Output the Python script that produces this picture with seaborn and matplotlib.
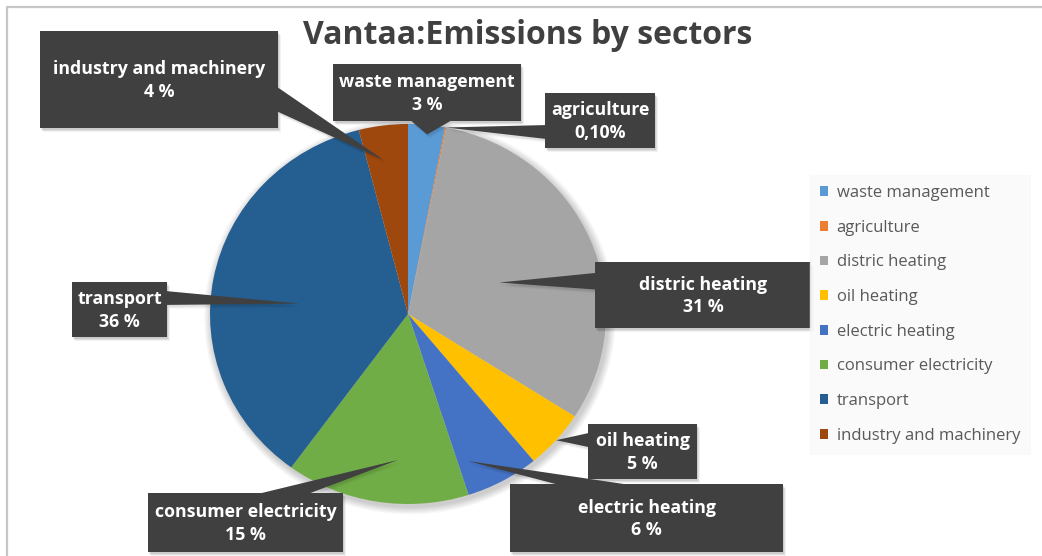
import numpy as np
import matplotlib
matplotlib.use("Agg")
import matplotlib.pyplot as plt
from matplotlib.patches import Rectangle, Polygon, Ellipse
import seaborn as sns

# ---- data -------------------------------------------------------------
sectors = ["waste management", "agriculture", "distric heating", "oil heating",
           "electric heating", "consumer electricity", "transport",
           "industry and machinery"]
shares = [3, 0.1, 31, 5, 6, 15, 36, 4]
share_labels = ["3 %", "0,10%", "31 %", "5 %", "6 %", "15 %", "36 %", "4 %"]
colors = ["#5B9BD5", "#ED7D31", "#A5A5A5", "#FFC000",
          "#4472C4", "#70AD47", "#255E91", "#9E480E"]
title = "Vantaa:Emissions by sectors"

# ---- layout (pixel space, origin top-left) ----------------------------
W, H = 1042, 556
cx, cy, rx, ry = 408, 314, 198, 190          # pie centre and radii
callout_boxes = [
    (333, 64, 521, 121),
    (545, 93, 655, 148),
    (595, 262, 811, 328),
    (588, 424, 697, 479),
    (510, 484, 783, 552),
    (148, 493, 343, 552),
    (72, 282, 167, 337),
    (40, 31, 278, 128),
]
# pointer landing spot: (position across the wedge 0..1, radius fraction)
pointer_anchor = [(0.54, 0.95), (0.5, 1.0), (0.53, 0.49), (0.5, 1.0),
                  (0.84, 0.83), (0.40, 0.77), (0.46, 0.55), (0.40, 0.82)]

sns.set_theme(style="white")
plt.rcParams["font.family"] = ["Open Sans", "DejaVu Sans"]

fig = plt.figure(figsize=(W / 100, H / 100), dpi=100)
fig.patch.set_facecolor("white")

# ---- pie --------------------------------------------------------------
lim = 1.1
pax = fig.add_axes([(cx - rx * lim) / W, (H - (cy + ry * lim)) / H,
                    2 * rx * lim / W, 2 * ry * lim / H])
palette = sns.color_palette(colors)
# soft shadow around the pie
for k in range(10):
    s = 1.0 + 0.004 * (k + 1)
    pax.add_patch(Ellipse((0.01, -0.015), 2 * s, 2 * s, color="black",
                          alpha=0.018, lw=0, zorder=0.5))
wedges, _ = pax.pie(shares, colors=palette, startangle=90, counterclock=False,
                    radius=1.0, wedgeprops=dict(linewidth=0))
pax.set_xlim(-lim, lim)
pax.set_ylim(-lim, lim)
pax.set_aspect("auto")
pax.axis("off")

# ---- overlay in pixel coordinates ---------------------------------------
ov = fig.add_axes([0, 0, 1, 1])
ov.set_xlim(0, W)
ov.set_ylim(H, 0)
ov.axis("off")
ov.patch.set_alpha(0)

# chart frame
ov.plot([7, 7, W], [H, 7, 7], color="#C6C6C6", lw=1.6, solid_capstyle="butt",
        zorder=1)

ov.text(528, 35, title, ha="center", va="center", fontsize=23,
        fontweight="bold", color="#404040")

cum = np.concatenate([[0], np.cumsum(shares)]) / np.sum(shares) * 360.0


def to_pixels(px, py):
    disp = pax.transData.transform((px, py))
    return ov.transData.inverted().transform(disp)


box_color = "#404040"
for i, (sector, lab) in enumerate(zip(sectors, share_labels)):
    f, r = pointer_anchor[i]
    a = np.radians(cum[i] + f * (cum[i + 1] - cum[i]))
    tx, ty = to_pixels(r * np.sin(a), r * np.cos(a))

    bx0, by0, bx1, by1 = callout_boxes[i]
    w, h = bx1 - bx0, by1 - by0
    xc, yc = (bx0 + bx1) / 2, (by0 + by1) / 2
    dx, dy = tx - xc, ty - yc
    if abs(dy) > abs(dx * h / w):
        ey = by0 if dy < 0 else by1
        f1, f2 = (7 / 12, 10 / 12) if dx > 0 else (2 / 12, 5 / 12)
        if abs(dx) < 0.06 * w:
            f1, f2 = (5 / 12, 7.5 / 12)
        base = [(bx0 + f1 * w, ey), (bx0 + f2 * w, ey)]
    else:
        ex = bx0 if dx < 0 else bx1
        f1, f2 = (7 / 12, 10 / 12) if dy > 0 else (2 / 12, 5 / 12)
        base = [(ex, by0 + f1 * h), (ex, by0 + f2 * h)]

    # drop shadow
    for k, al in [(4, 0.05), (3, 0.07), (2, 0.09)]:
        ov.add_patch(Rectangle((bx0 + k * 0.7, by0 + k), w, h, color="black",
                               alpha=al, lw=0, zorder=2))
        ov.add_patch(Polygon([(x + k * 0.7, y + k) for x, y in base + [(tx, ty)]],
                             closed=True, color="black", alpha=al * 0.6, lw=0,
                             zorder=2))
    ov.add_patch(Polygon(base + [(tx, ty)], closed=True, color=box_color, lw=0,
                         zorder=3))
    ov.add_patch(Rectangle((bx0, by0), w, h, color=box_color, lw=0, zorder=4))
    ov.text(xc, yc + 1, f"{sector}\n{lab}", ha="center", va="center",
            color="white", fontsize=12.8, fontweight="bold", linespacing=1.3,
            zorder=5)

leg = fig.legend(wedges, sectors, loc="upper left",
                 bbox_to_anchor=(810 / W, 1 - 175 / H), frameon=True,
                 fancybox=False, facecolor="#F9F9F9", edgecolor="#F9F9F9",
                 fontsize=12, labelcolor="#595959", handlelength=0.5,
                 handleheight=0.5, handletextpad=0.5, labelspacing=1.12,
                 borderpad=0.6, borderaxespad=0)

fig.savefig("out.png", dpi=100, facecolor="white")
